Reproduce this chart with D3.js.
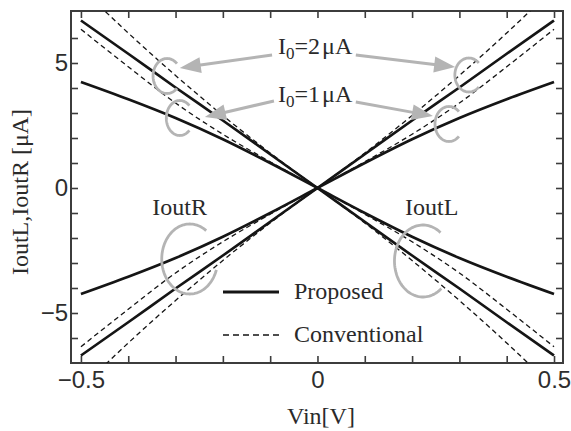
<!DOCTYPE html>
<html>
<head>
<meta charset="utf-8">
<script src="https://cdn.jsdelivr.net/npm/d3@7"></script>
<style>
body { margin: 0; background: #fff; }
</style>
</head>
<body>
<div id="plot"></div>
<script>
// input voltage [V]
const vin = [-0.5, -0.4, -0.3, -0.2, -0.1, 0, 0.1, 0.2, 0.3, 0.4, 0.5];

// proposed circuit, output currents [uA]
const prop2R = [-6.7, -5.37, -4.02, -2.7, -1.35, 0, 1.35, 2.7, 4.02, 5.37, 6.7];
const prop2L = [6.7, 5.37, 4.02, 2.7, 1.35, 0, -1.35, -2.7, -4.02, -5.37, -6.7];
const prop1R = [-4.24, -3.55, -2.8, -1.95, -1.0, 0, 1.0, 1.95, 2.8, 3.55, 4.24];
const prop1L = [4.24, 3.55, 2.8, 1.95, 1.0, 0, -1.0, -1.95, -2.8, -3.55, -4.24];

// conventional circuit, output currents [uA]
const conv2R = [-8.0, -6.2, -4.5, -2.9, -1.4, 0, 1.4, 2.9, 4.5, 6.2, 8.0];
const conv2L = [8.0, 6.2, 4.5, 2.9, 1.4, 0, -1.4, -2.9, -4.5, -6.2, -8.0];
const conv1R = [-6.35, -4.85, -3.4, -2.15, -1.05, 0, 1.05, 2.15, 3.4, 4.85, 6.35];
const conv1L = [6.35, 4.85, 3.4, 2.15, 1.05, 0, -1.05, -2.15, -3.4, -4.85, -6.35];

const xTicks = [-0.5, -0.4, -0.3, -0.2, -0.1, 0, 0.1, 0.2, 0.3, 0.4, 0.5];
const xLabels = [-0.5, 0, 0.5];
const yTicks = [-6, -5, -4, -3, -2, -1, 0, 1, 2, 3, 4, 5, 6];
const yLabels = [-5, 0, 5];

const W = 571, H = 431;
const frame = {left: 71, right: 563, top: 11, bottom: 363};
const axisColor = "#3c3c3c";
const lineColor = "#151515";
const gray = "#b4b4b4";
const serif = "'Liberation Serif', 'Times New Roman', serif";
const sans = "'Liberation Sans', Arial, sans-serif";

const svg = d3.select("#plot").append("svg")
    .attr("width", W).attr("height", H);

const x = d3.scaleLinear().domain([-0.521, 0.519]).range([frame.left, frame.right]);
const y = d3.scaleLinear().domain([-7.0, 7.08]).range([frame.bottom, frame.top]);

svg.append("clipPath").attr("id", "clip").append("rect")
    .attr("x", frame.left).attr("y", frame.top)
    .attr("width", frame.right - frame.left).attr("height", frame.bottom - frame.top);

// axes, ticks pointing inward
function styleAxis(g) {
    g.select(".domain").remove();
    g.selectAll("line").attr("stroke", axisColor).attr("stroke-width", 1.6);
    g.selectAll("text").attr("fill", "#2e2e2e").style("font-family", sans).style("font-size", "24px");
}
const fmtX = d3.format(".1f");
svg.append("g").attr("transform", "translate(0," + frame.bottom + ")")
    .call(d3.axisBottom(x).tickValues(xTicks).tickSize(-7).tickPadding(8)
        .tickFormat(d => xLabels.includes(d) ? (d === 0 ? "0" : fmtX(d)) : ""))
    .call(styleAxis);
svg.append("g").attr("transform", "translate(0," + frame.top + ")")
    .call(d3.axisTop(x).tickValues(xTicks).tickSize(-7).tickFormat(""))
    .call(styleAxis);
svg.append("g").attr("transform", "translate(" + frame.left + ",0)")
    .call(d3.axisLeft(y).tickValues(yTicks).tickSize(-7).tickPadding(3)
        .tickFormat(d => yLabels.includes(d) ? d3.format("d")(d) : ""))
    .call(styleAxis);
svg.append("g").attr("transform", "translate(" + frame.right + ",0)")
    .call(d3.axisRight(y).tickValues(yTicks).tickSize(-7).tickFormat(""))
    .call(styleAxis);

svg.append("rect")
    .attr("x", frame.left).attr("y", frame.top)
    .attr("width", frame.right - frame.left).attr("height", frame.bottom - frame.top)
    .attr("fill", "none").attr("stroke", axisColor).attr("stroke-width", 2);

// curves
const line = d3.line()
    .x((d, i) => x(vin[i]))
    .y(d => y(d))
    .curve(d3.curveMonotoneX);

const curves = svg.append("g").attr("clip-path", "url(#clip)");
[conv2R, conv2L, conv1R, conv1L].forEach(s => {
    curves.append("path").attr("d", line(s))
        .attr("fill", "none").attr("stroke", lineColor)
        .attr("stroke-width", 1.3).attr("stroke-dasharray", "5,3.5");
});
[prop2R, prop2L, prop1R, prop1L].forEach(s => {
    curves.append("path").attr("d", line(s))
        .attr("fill", "none").attr("stroke", lineColor)
        .attr("stroke-width", 2.7);
});

// annotations (positions in data units)
const ann = svg.append("g");

function cMark(cv, ci, rx, ry, a0, a1) {
    const pts = d3.range(a0, a1 + 0.1, 3).map(a => {
        const t = a * Math.PI / 180;
        return [x(cv) + rx * Math.cos(t), y(ci) + ry * Math.sin(t)];
    });
    ann.append("path").attr("d", d3.line()(pts))
        .attr("fill", "none").attr("stroke", gray).attr("stroke-width", 2.8);
}
function arrow(v0, i0, v1, i1) {
    const x0 = x(v0), y0 = y(i0), x1 = x(v1), y1 = y(i1);
    const len = Math.hypot(x1 - x0, y1 - y0);
    const ux = (x1 - x0) / len, uy = (y1 - y0) / len;
    const hl = 21, hw = 8;
    const bx = x1 - ux * hl, by = y1 - uy * hl;
    ann.append("line").attr("x1", x0).attr("y1", y0).attr("x2", bx + ux * 2).attr("y2", by + uy * 2)
        .attr("stroke", gray).attr("stroke-width", 3);
    ann.append("polygon")
        .attr("points", [[x1, y1], [bx - uy * hw, by + ux * hw], [bx + uy * hw, by - ux * hw]].join(" "))
        .attr("fill", gray);
}

cMark(-0.318, 4.48, 14, 17.5, 45, 315);
cMark(-0.291, 2.8, 13.5, 17.5, 45, 315);
cMark(0.32, 4.52, 14, 17, 45, 315);
cMark(0.278, 2.56, 14, 17.5, 45, 315);
cMark(-0.27, -2.84, 28, 35, 18, 307);
cMark(0.223, -2.92, 28.5, 36, 50, 310);

arrow(-0.096, 5.32, -0.291, 4.8);
arrow(0.081, 5.32, 0.291, 4.84);
arrow(-0.092, 3.48, -0.238, 2.84);
arrow(0.081, 3.44, 0.244, 2.88);

function currentLabel(v, i, val) {
    const t = ann.append("text").attr("x", x(v)).attr("y", y(i))
        .style("font-family", serif).style("font-size", "24px").attr("fill", "#2a2a2a");
    t.append("tspan").text("I");
    t.append("tspan").attr("dy", 5).style("font-size", "17px").text("0");
    t.append("tspan").attr("dy", -5).text("=" + val);
    t.append("tspan").attr("dx", 2).text("\u03bcA");
}
currentLabel(-0.0835, 5.38, 2);
currentLabel(-0.0835, 3.46, 1);

ann.append("text").attr("x", x(-0.349)).attr("y", y(-1.08))
    .style("font-family", serif).style("font-size", "24px").attr("fill", "#2a2a2a").text("IoutR");
ann.append("text").attr("x", x(0.185)).attr("y", y(-1.08))
    .style("font-family", serif).style("font-size", "24px").attr("fill", "#2a2a2a").text("IoutL");

// legend
const leg = svg.append("g");
leg.append("line").attr("x1", 223).attr("x2", 279).attr("y1", 292).attr("y2", 292)
    .attr("stroke", lineColor).attr("stroke-width", 3);
leg.append("text").attr("x", 294).attr("y", 299)
    .style("font-family", serif).style("font-size", "24px").attr("fill", "#2a2a2a").text("Proposed");
leg.append("line").attr("x1", 223).attr("x2", 279).attr("y1", 335).attr("y2", 335)
    .attr("stroke", lineColor).attr("stroke-width", 1.3).attr("stroke-dasharray", "6,4");
leg.append("text").attr("x", 294).attr("y", 342)
    .style("font-family", serif).style("font-size", "24px").attr("fill", "#2a2a2a").text("Conventional");

// axis titles
svg.append("text").attr("x", 321).attr("y", 424).attr("text-anchor", "middle")
    .style("font-family", serif).style("font-size", "24px").attr("fill", "#2a2a2a").text("Vin[V]");
svg.append("text").attr("transform", "translate(28,192) rotate(-90)").attr("text-anchor", "middle")
    .style("font-family", serif).style("font-size", "24px").attr("fill", "#2a2a2a").text("IoutL,IoutR [\u03bcA]");
</script>
</body>
</html>
